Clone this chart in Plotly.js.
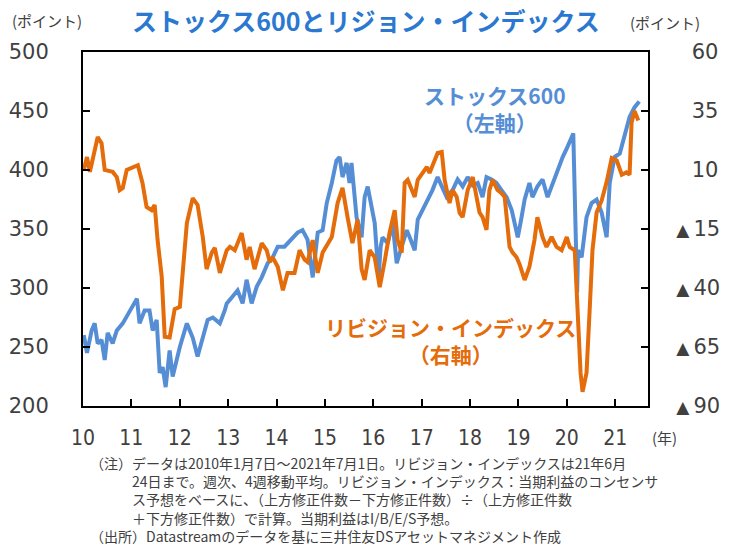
<!DOCTYPE html>
<html>
<head>
<meta charset="utf-8">
<script src="https://cdn.plot.ly/plotly-3.0.1.min.js"></script>
<style>
  body { margin: 0; background: #fff; }
  #chart { width: 754px; height: 552px; }
</style>
</head>
<body>
<div id="chart"></div>
<script>
// ストックス600 (左軸, ポイント)
const stoxxDates = [
  "2010-01-07","2010-01-31","2010-03-07","2010-03-30","2010-04-22","2010-05-21","2010-06-14","2010-07-06",
  "2010-08-13","2010-09-13","2010-10-28","2010-12-20","2011-01-12","2011-02-12","2011-03-04","2011-04-11",
  "2011-05-18","2011-06-11","2011-07-11","2011-08-03","2011-08-25","2011-09-17","2011-10-17","2011-11-09",
  "2011-12-09","2012-01-02","2012-02-24","2012-04-08","2012-05-15","2012-06-23","2012-07-30","2012-09-07",
  "2012-10-30","2012-12-06","2012-12-21","2013-01-28","2013-03-13","2013-04-20","2013-05-20","2013-06-27",
  "2013-08-04","2013-09-11","2013-10-26","2013-12-03","2014-01-10","2014-03-02","2014-04-25","2014-06-09",
  "2014-07-16","2014-08-23","2014-10-01","2014-11-08","2014-12-15","2015-01-15","2015-02-22","2015-03-29",
  "2015-04-22","2015-05-14","2015-06-14","2015-07-06","2015-07-21","2015-08-28","2015-10-05","2015-10-28",
  "2015-11-20","2015-12-20","2016-01-12","2016-02-10","2016-02-26","2016-03-11","2016-04-19","2016-05-26",
  "2016-06-26","2016-08-03","2016-09-10","2016-10-02","2016-11-09","2016-12-02","2017-01-09","2017-02-16",
  "2017-03-23","2017-05-01","2017-06-01","2017-07-08","2017-08-22","2017-09-29","2017-11-06","2017-12-14",
  "2018-01-21","2018-02-28","2018-04-05","2018-05-05","2018-06-12","2018-07-19","2018-08-26","2018-10-04",
  "2018-11-11","2018-12-27","2019-01-20","2019-02-17","2019-03-25","2019-04-17","2019-05-24","2019-07-02",
  "2019-08-09","2019-09-16","2019-10-23","2019-12-01","2020-01-08","2020-02-19","2020-03-19","2020-03-26",
  "2020-04-22","2020-05-29","2020-07-06","2020-08-13","2020-09-20","2020-10-28","2020-11-20","2020-12-27",
  "2021-02-04","2021-03-11","2021-04-19","2021-05-26","2021-07-01"
];
const stoxxValues = [
  260,245,264,270,253,256,239,262,
  253,264,270,281,284,291,270,281,
  281,264,273,228,233,216,247,225,
  239,250,270,258,242,258,273,275,
  270,281,287,292,298,287,307,287,
  301,309,321,326,335,335,341,347,
  349,341,309,347,349,372,389,408,
  411,394,406,389,406,360,343,377,
  386,366,355,309,335,343,338,355,
  321,335,349,343,332,358,366,375,
  383,394,386,377,383,392,386,394,
  387,389,377,394,392,389,383,377,
  366,343,357,375,389,377,386,392,
  377,389,400,411,420,431,296,332,
  326,360,372,375,364,343,389,411,
  414,428,445,453,458
];

// リビジョン・インデックス (右軸)
const revDates = [
  "2010-01-07","2010-01-31","2010-02-22","2010-03-30","2010-04-22","2010-05-21","2010-06-14","2010-08-13",
  "2010-09-13","2010-10-05","2010-10-28","2010-11-27","2011-01-12","2011-02-19","2011-03-26","2011-04-26",
  "2011-06-03","2011-06-26","2011-07-18","2011-08-18","2011-09-10","2011-10-17","2011-11-24","2012-01-02",
  "2012-02-24","2012-04-08","2012-05-15","2012-06-23","2012-07-22","2012-08-30","2012-09-22","2012-10-30",
  "2012-12-21","2013-01-14","2013-02-20","2013-04-13","2013-05-20","2013-06-12","2013-07-19","2013-09-11",
  "2013-10-19","2013-11-11","2013-12-03","2014-01-10","2014-02-18","2014-03-25","2014-05-17","2014-06-24",
  "2014-08-01","2014-08-23","2014-10-01","2014-11-08","2014-12-15","2015-02-22","2015-04-07","2015-05-14",
  "2015-06-21","2015-07-28","2015-09-05","2015-10-05","2015-10-28","2015-12-05","2016-01-12","2016-02-19",
  "2016-03-26","2016-05-03","2016-06-11","2016-07-03","2016-08-03","2016-08-25","2016-09-17","2016-10-17",
  "2016-11-09","2016-12-02","2017-01-09","2017-02-09","2017-03-01","2017-04-08","2017-05-01","2017-06-01",
  "2017-06-23","2017-07-30","2017-08-22","2017-09-22","2017-10-14","2017-11-06","2017-12-14","2018-01-21",
  "2018-02-20","2018-03-13","2018-04-05","2018-05-05","2018-05-27","2018-06-20","2018-07-27","2018-08-26",
  "2018-09-19","2018-10-26","2018-11-18","2018-12-18","2019-01-10","2019-02-17","2019-03-25","2019-05-02",
  "2019-05-24","2019-07-02","2019-08-01","2019-09-08","2019-10-16","2019-11-23","2020-01-01","2020-01-23",
  "2020-03-01","2020-03-22","2020-04-14","2020-04-29","2020-05-29","2020-06-21","2020-07-13","2020-08-13",
  "2020-09-20","2020-10-28","2020-12-05","2021-01-12","2021-02-19","2021-03-26","2021-04-19","2021-05-04",
  "2021-05-26","2021-06-24"
];
const revValues = [
  10,15.5,9.2,17.6,24,21.4,10,9.2,
  7,1.5,2.4,10,11,12,4.5,-5.7,
  -7,-4.8,-19.7,-35,-60.7,-61,-49,-48,
  -12.5,-1.9,-4.8,-18.4,-32,-25,-23,-33.6,
  -24,-22.6,-24,-16.7,-28,-22.6,-32,-21,
  -24,-29,-27,-31,-41,-33.6,-33.6,-24,
  -28,-29,-19.7,-33.6,-25,-18.4,-4,2.4,
  -10,-21,-11,-32,-36.6,-24,-27,-39.6,
  -29,-16.7,-7,-19.7,-25,4.5,5.8,1.5,
  -1.4,5.8,8.7,11.3,8.7,14.2,17.2,17.6,
  5.8,-4,1.5,-1.4,-8.2,-10,1.5,7,
  -1.4,-8,-10,-15.4,1.5,5.8,1.5,0.2,
  -1.4,-22.6,-25,-27,-30,-36.6,-31,-19.7,
  -10,-18.4,-22.6,-18.4,-22.6,-24,-18.4,-22.6,
  -24,-48,-76,-84,-76,-50,-24,-8,
  -3,5,15,14,8,9,8,30,
  35,31
];

// right axis ticks (▲ = minus)
const rightTickVals = [60, 35, 10, -15, -40, -65, -90];
const tri = "<span style='font-size:17px'>▲</span>\u2009";
const rightTickText = ["\u2007\u200A60", "\u2007\u200A35", "\u2007\u200A10", tri + "15", tri + "40", tri + "65", tri + "90"];

const noteLines = [
  "（注）データは2010年1月7日～2021年7月1日。リビジョン・インデックスは21年6月",
  "\u3000\u3000\u300024日まで。週次、4週移動平均。リビジョン・インデックス：当期利益のコンセンサ",
  "\u3000\u3000\u3000ス予想をベースに、（上方修正件数－下方修正件数）÷（上方修正件数",
  "\u3000\u3000\u3000＋下方修正件数）で計算。当期利益はI/B/E/S予想。",
  "（出所）Datastreamのデータを基に三井住友DSアセットマネジメント作成"
];

const BLUE = "#558ed5";
const ORANGE = "#e46c0a";
const GREY = "#404040";
const JP = "Noto Sans CJK JP";

const data = [
  {x: stoxxDates, y: stoxxValues, mode: "lines", yaxis: "y",
   line: {color: BLUE, width: 4}},
  {x: revDates, y: revValues, mode: "lines", yaxis: "y2",
   line: {color: ORANGE, width: 4}}
];

const annotations = [
  {text: "ストックス600とリジョン・インデックス", xref: "paper", yref: "paper",
   x: 0.5, y: 1.09, xanchor: "center", yanchor: "middle", showarrow: false,
   font: {family: JP, size: 25, color: "#2a78d0", weight: "bold"}},
  {text: "(ポイント)", xref: "paper", yref: "paper", x: -0.064, y: 1.088,
   xanchor: "center", yanchor: "middle", showarrow: false,
   font: {family: JP, size: 15, color: GREY}},
  {text: "(ポイント)", xref: "paper", yref: "paper", x: 1.03, y: 1.082,
   xanchor: "center", yanchor: "middle", showarrow: false,
   font: {family: JP, size: 15, color: GREY}},
  {text: "ストックス600<br>（左軸）", xref: "paper", yref: "paper", x: 0.73, y: 0.84,
   xanchor: "center", yanchor: "middle", showarrow: false,
   font: {family: JP, size: 21, color: BLUE, weight: "bold"}},
  {text: "リビジョン・インデックス<br>（右軸）", xref: "paper", yref: "paper", x: 0.65, y: 0.185,
   xanchor: "center", yanchor: "middle", showarrow: false,
   font: {family: JP, size: 21, color: ORANGE, weight: "bold"}},
  {text: "(年)", xref: "paper", yref: "paper", x: 1.03, y: -0.09,
   xanchor: "center", yanchor: "middle", showarrow: false,
   font: {family: JP, size: 15, color: GREY}},
  {text: noteLines.join("<br>"), xref: "paper", yref: "paper",
   x: 0.009, y: -0.127, xanchor: "left", yanchor: "top", align: "left", showarrow: false,
   font: {family: JP, size: 14, color: GREY}}
];

const layout = {
  width: 754,
  height: 552,
  margin: {l: 83, r: 106, t: 52, b: 146},
  paper_bgcolor: "#fff",
  plot_bgcolor: "#fff",
  showlegend: false,
  xaxis: {
    type: "date",
    range: ["2010-01-01", "2021-09-05"],
    tick0: "2010-01-01",
    dtick: "M12",
    tickformat: "%y",
    ticks: "inside", ticklen: 7, tickwidth: 2, tickcolor: "#000",
    showline: true, linecolor: "#000", linewidth: 2, mirror: true,
    showgrid: false, zeroline: false,
    ticklabelstandoff: 12,
    tickfont: {family: "DejaVu Sans Condensed", size: 21, color: GREY}
  },
  yaxis: {
    range: [200, 500],
    dtick: 50,
    ticks: "inside", ticklen: 7, tickwidth: 2, tickcolor: "#000",
    showline: true, linecolor: "#000", linewidth: 2,
    showgrid: false, zeroline: false,
    ticklabelstandoff: 28,
    tickfont: {family: "DejaVu Sans", size: 21, color: GREY}
  },
  yaxis2: {
    overlaying: "y",
    side: "right",
    range: [-90, 60],
    tickvals: rightTickVals,
    ticktext: rightTickText,
    ticks: "inside", ticklen: 7, tickwidth: 2, tickcolor: "#000",
    showline: true, linecolor: "#000", linewidth: 2,
    showgrid: false, zeroline: false,
    ticklabelstandoff: 22,
    tickfont: {family: "DejaVu Sans", size: 21, color: GREY}
  },
  annotations: annotations
};

const config = {
  displayModeBar: false,
  staticPlot: true
};

Plotly.newPlot("chart", data, layout, config);
</script>
</body>
</html>
